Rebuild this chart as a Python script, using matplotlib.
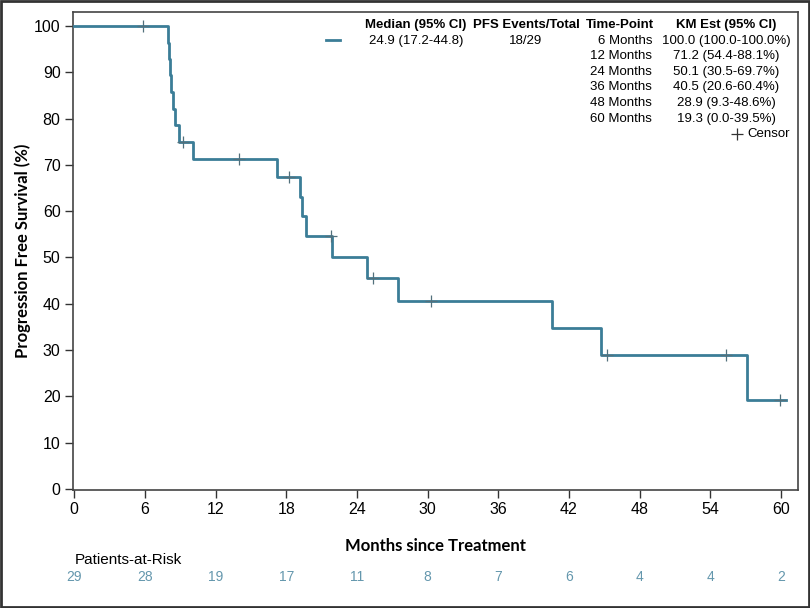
import matplotlib
matplotlib.use("Agg")
import matplotlib.pyplot as plt
from matplotlib.patches import Rectangle
from matplotlib.lines import Line2D

# ---- data ----
step_times = [0, 7.95, 8.05, 8.15, 8.22, 8.35, 8.6, 8.9, 10.1, 17.2, 19.15, 19.3, 19.7,
              21.9, 24.9, 27.45, 40.6, 44.7, 57.1]
step_surv = [100.0, 96.4, 92.9, 89.3, 85.7, 82.1, 78.6, 75.0, 71.2, 67.3, 63.1, 58.9, 54.7,
             50.1, 45.6, 40.5, 34.7, 28.9, 19.3]
last_time = 60.4

censor_times = [5.85, 9.2, 14.0, 18.2, 21.8, 25.35, 30.3, 45.2, 55.3, 59.9]
censor_surv = [100.0, 75.0, 71.2, 67.3, 54.7, 45.6, 40.5, 28.9, 28.9, 19.3]

x_ticks = [0, 6, 12, 18, 24, 30, 36, 42, 48, 54, 60]
y_ticks = [0, 10, 20, 30, 40, 50, 60, 70, 80, 90, 100]
at_risk = [29, 28, 19, 17, 11, 8, 7, 6, 4, 4, 2]

header = ["Median (95% CI)", "PFS Events/Total", "Time-Point", "KM Est (95% CI)"]
median_txt = "24.9 (17.2-44.8)"
events_txt = "18/29"
time_points = ["6 Months", "12 Months", "24 Months", "36 Months", "48 Months", "60 Months"]
km_est = ["100.0 (100.0-100.0%)", "71.2 (54.4-88.1%)", "50.1 (30.5-69.7%)",
          "40.5 (20.6-60.4%)", "28.9 (9.3-48.6%)", "19.3 (0.0-39.5%)"]

LINE = "#3b7d97"
CENS = "#52707c"
RISK = "#6497ad"

plt.rcParams['font.family'] = ['Liberation Sans', 'DejaVu Sans']

fig = plt.figure(figsize=(8.1, 6.08), dpi=100)
ax = fig.add_axes([73 / 810, 1 - 490 / 608, (798 - 73) / 810, (490 - 12) / 608])

xs = list(step_times) + [last_time]
ys = list(step_surv) + [step_surv[-1]]
ax.step(xs, ys, where='post', color=LINE, lw=2.0, zorder=3)
ax.plot(censor_times, censor_surv, linestyle='none', marker='+', markersize=8,
        markeredgewidth=0.9, color=CENS, zorder=4)

ax.set_xlim(-0.1, 61.45)
ax.set_ylim(-0.2, 103.0)
ax.set_xticks(x_ticks)
ax.set_yticks(y_ticks)
ax.tick_params(axis='both', labelsize=11.5, length=6, width=1.0, color='#333333', pad=3)
for s in ax.spines.values():
    s.set_color('#444444')
    s.set_linewidth(1.2)

ax.set_xlabel("Months since Treatment", fontsize=12, fontweight='bold',
              family=['Lato', 'DejaVu Sans'], labelpad=15)
ax.set_ylabel("Progression Free Survival (%)", fontsize=12, fontweight='bold',
              family=['Lato', 'DejaVu Sans'], labelpad=2)

# ---- legend table (figure pixel coordinates) ----
def fx(px):
    return px / 810

def fy(py):
    return 1 - py / 608

col_x = [416, 526, 620, 726]
row0 = 25
dy = 15.6
fs = 9.5
for cx, h in zip(col_x, header):
    fig.text(fx(cx), fy(row0), h, ha='center', va='center', fontsize=fs, fontweight='bold')
fig.add_artist(Line2D([fx(326), fx(340)], [fy(40), fy(40)], color=LINE, lw=2.0))
fig.text(fx(col_x[0]), fy(row0 + dy), median_txt, ha='center', va='center', fontsize=fs)
fig.text(fx(col_x[1]), fy(row0 + dy), events_txt, ha='center', va='center', fontsize=fs)
for i, (tp, km) in enumerate(zip(time_points, km_est)):
    yy = row0 + dy * (i + 1)
    fig.text(fx(652), fy(yy), tp, ha='right', va='center', fontsize=fs)
    fig.text(fx(col_x[3]), fy(yy), km, ha='center', va='center', fontsize=fs)
yy = row0 + dy * 7
fig.add_artist(Line2D([fx(737)], [fy(yy)], marker='+', markersize=8, markeredgewidth=0.9,
                      color='#333333', linestyle='none'))
fig.text(fx(790), fy(yy), "Censor", ha='right', va='center', fontsize=fs)

# ---- patients at risk ----
fig.text(fx(75), fy(560), "Patients-at-Risk", ha='left', va='center', fontsize=11)
for t, n in zip(x_ticks, at_risk):
    px = ax.transData.transform((t, 0))[0]
    fig.text(px / fig.bbox.width, fy(577), str(n), ha='center', va='center',
             fontsize=10, color=RISK)

# ---- outer frame ----
fig.add_artist(Rectangle((0.001, 0.001), 0.998, 0.998, transform=fig.transFigure,
                         fill=False, edgecolor='#333333', lw=2.0))

fig.savefig("out.png", dpi=100)
